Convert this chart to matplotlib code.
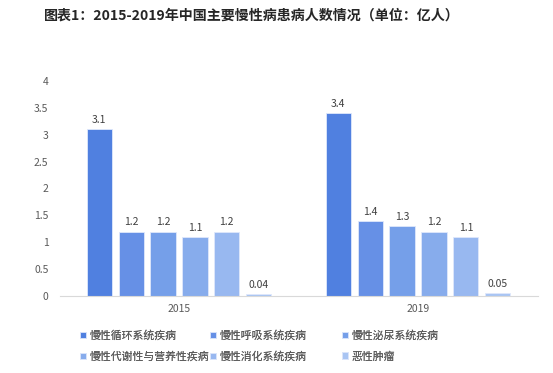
import matplotlib
matplotlib.use("Agg")
import matplotlib.pyplot as plt
import numpy as np

plt.rcParams['font.family'] = ['Noto Sans CJK SC', 'DejaVu Sans']

years = ["2015", "2019"]
series = ["慢性循环系统疾病", "慢性呼吸系统疾病", "慢性泌尿系统疾病",
          "慢性代谢性与营养性疾病", "慢性消化系统疾病", "恶性肿瘤"]
values = [
    [3.1, 3.4],
    [1.2, 1.4],
    [1.2, 1.3],
    [1.1, 1.2],
    [1.2, 1.1],
    [0.04, 0.05],
]
labels = [
    ["3.1", "3.4"],
    ["1.2", "1.4"],
    ["1.2", "1.3"],
    ["1.1", "1.2"],
    ["1.2", "1.1"],
    ["0.04", "0.05"],
]
colors = ["#5080E0", "#6690E6", "#759FE9", "#87ACEC", "#98B8F0", "#A9C5F3"]
yticks = [0, 0.5, 1, 1.5, 2, 2.5, 3, 3.5, 4]
ytick_labels = ["0", "0.5", "1", "1.5", "2", "2.5", "3", "3.5", "4"]

W, H = 553, 373
fig = plt.figure(figsize=(W / 100, H / 100), dpi=100)
ax = fig.add_axes([59.5 / W, 1 - 296 / H, (537.5 - 59.5) / W, (296 - 81) / H])

x = np.arange(len(years))
n = len(series)
slot = 0.8 / n
bw = slot * 0.79
handles = []
for i, (name, vals) in enumerate(zip(series, values)):
    pos = x - 0.4 + slot * (i + 0.5)
    bars = ax.bar(pos, vals, width=bw, color=colors[i], edgecolor="#dfe8fb",
                  linewidth=0.6, label=name, zorder=2)
    ax.bar_label(bars, labels=labels[i], padding=3, fontsize=7.5,
                 color="#404040")
    handles.append(bars)

ax.set_xlim(-0.5, 1.5)
ax.set_ylim(0, 4)
ax.set_yticks(yticks)
ax.set_yticklabels(ytick_labels)
ax.set_xticks(x)
ax.set_xticklabels(years)
ax.tick_params(axis='both', length=0, labelsize=7.5, labelcolor="#595959")
ax.tick_params(axis='y', pad=8)
ax.tick_params(axis='x', pad=6)
for s in ["top", "right", "left"]:
    ax.spines[s].set_visible(False)
ax.spines["bottom"].set_color("#d9d9d9")
ax.spines["bottom"].set_linewidth(0.8)

fig.text(44 / W, 1 - 16 / H, "图表1：2015-2019年中国主要慢性病患病人数情况（单位：亿人）",
         fontsize=10.1, fontweight="bold", color="#262626", va="center", ha="left")

# legend in 3 columns, row-major
col_x = [80, 210, 342]
for k in range(3):
    idx = [k, k + 3]
    leg = fig.legend([handles[j] for j in idx], [series[j] for j in idx],
                     loc="center left",
                     bbox_to_anchor=(col_x[k] / W, 1 - 346 / H),
                     frameon=False, fontsize=7.8, handlelength=0.55,
                     handleheight=0.55, handletextpad=0.35, labelspacing=0.95,
                     borderaxespad=0, borderpad=0)
    for t in leg.get_texts():
        t.set_color("#595959")
    fig.add_artist(leg)

fig.savefig("out.png", dpi=100, facecolor="white")
